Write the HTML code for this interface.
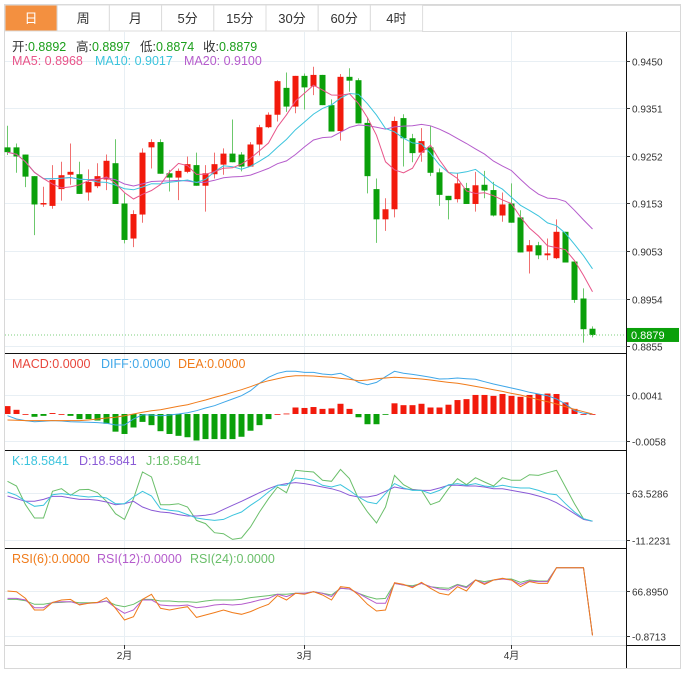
<!DOCTYPE html>
<html><head><meta charset="utf-8"><style>
body{margin:0;background:#fff;font-family:"Liberation Sans","Noto Sans CJK SC",sans-serif}
svg{display:block}
text{font-family:"Liberation Sans","Noto Sans CJK SC",sans-serif}
</style></head><body>
<svg id="c" width="684" height="673" xmlns="http://www.w3.org/2000/svg">
<defs>
<clipPath id="pc"><rect x="5" y="32" width="621" height="320"/></clipPath>
<clipPath id="mc"><rect x="5" y="354" width="621" height="95"/></clipPath>
<clipPath id="kc"><rect x="5" y="451" width="621" height="96"/></clipPath>
<clipPath id="rc"><rect x="5" y="549" width="621" height="95"/></clipPath>
</defs>
<rect x="0" y="0" width="684" height="673" fill="#fff"/>
<rect x="4.5" y="4.5" width="676" height="664" fill="none" stroke="#d8d8d8"/>
<g id="tabs"></g>
<g id="grid"></g>
<g id="candles"></g>
<g id="ma" clip-path="url(#pc)"></g>
<g id="macd" clip-path="url(#mc)"></g>
<g id="kdj" clip-path="url(#kc)"></g>
<g id="rsi" clip-path="url(#rc)"></g>
<g id="axes"></g>
<g font-size="12.5">
<g>
<text x="12" y="51" fill="#333">开:<tspan fill="#1a9e1a">0.8892</tspan></text>
<text x="76" y="51" fill="#333">高:<tspan fill="#1a9e1a">0.8897</tspan></text>
<text x="140" y="51" fill="#333">低:<tspan fill="#1a9e1a">0.8874</tspan></text>
<text x="203" y="51" fill="#333">收:<tspan fill="#1a9e1a">0.8879</tspan></text>
</g>
<g>
<text x="12" y="65" fill="#e8558a">MA5: 0.8968</text>
<text x="95" y="65" fill="#3cc4dd">MA10: 0.9017</text>
<text x="184" y="65" fill="#b55ccc">MA20: 0.9100</text>
</g>
<g>
<text x="12" y="368" fill="#e8463c">MACD:0.0000</text>
<text x="101" y="368" fill="#3fa7e8">DIFF:0.0000</text>
<text x="178" y="368" fill="#f07b1a">DEA:0.0000</text>
</g>
<g>
<text x="12" y="465" fill="#3cc4dd">K:18.5841</text>
<text x="79" y="465" fill="#8a5ad6">D:18.5841</text>
<text x="146" y="465" fill="#6bbf6b">J:18.5841</text>
</g>
<g>
<text x="12" y="563" fill="#f07b1a">RSI(6):0.0000</text>
<text x="97" y="563" fill="#b55ccc">RSI(12):0.0000</text>
<text x="190" y="563" fill="#6bbf6b">RSI(24):0.0000</text>
</g>
</g>
</svg>
<script>
const tabLabels=["日","周","月","5分","15分","30分","60分","4时"];
const opens=[.9270,.9270,.9255,.9210,.9151,.9148,.9183,.9213,.9214,.9176,.9189,.9203,.9237,.9153,.9080,.9130,.9270,.9281,.9216,.9207,.9219,.9233,.9190,.9214,.9234,.9257,.9255,.9230,.9276,.9312,.9338,.9394,.9355,.9419,.9397,.9421,.9358,.9304,.9417,.9410,.9321,.9183,.9120,.9141,.9331,.9289,.9259,.9270,.9218,.9169,.9162,.9185,.9152,.9192,.9181,.9128,.9153,.9124,.9053,.9066,.9045,.9039,.9094,.9032,.8955,.8892];
const highs=[.9315,.9278,.9255,.9210,.9188,.9233,.9240,.9278,.9240,.9224,.9237,.9255,.9287,.9174,.9139,.9268,.9287,.9287,.9223,.9226,.9251,.9259,.9233,.9259,.9268,.9328,.9260,.9281,.9317,.9343,.9410,.9426,.9419,.9424,.9438,.9421,.9370,.9423,.9435,.9414,.9331,.9205,.9164,.9334,.9339,.9298,.9310,.9315,.9226,.9169,.9216,.9196,.9219,.9221,.9198,.9176,.9195,.9139,.9077,.9073,.9080,.9120,.9094,.9032,.8976,.8897];
const lows=[.9254,.9217,.9187,.9087,.9146,.9142,.9159,.9192,.9173,.9159,.9185,.9181,.9152,.9070,.9062,.9113,.9226,.9215,.9178,.9160,.9216,.9190,.9136,.9205,.9213,.9239,.9220,.9230,.9253,.9310,.9324,.9344,.9341,.9349,.9379,.9358,.9303,.9284,.9386,.9320,.9174,.9071,.9096,.9124,.9230,.9239,.9240,.9210,.9148,.9120,.9155,.9152,.9136,.9164,.9126,.9115,.9113,.9051,.9007,.9037,.9035,.9037,.9030,.8946,.8863,.8874];
const closes=[.9260,.9251,.9209,.9151,.9154,.9202,.9212,.9219,.9173,.9198,.9210,.9242,.9152,.9077,.9131,.9259,.9281,.9215,.9207,.9221,.9235,.9190,.9216,.9235,.9257,.9239,.9230,.9276,.9312,.9338,.9408,.9355,.9419,.9395,.9421,.9358,.9303,.9417,.9409,.9320,.9210,.9120,.9141,.9325,.9289,.9258,.9283,.9217,.9171,.9160,.9195,.9152,.9191,.9180,.9128,.9151,.9113,.9051,.9066,.9045,.9049,.9094,.9030,.8952,.8891,.8879];
const macdHist=[.0017,.0009,0,-.0006,-.0004,.0002,0,-.0004,-.0011,-.0011,-.0014,-.0021,-.0038,-.0043,-.0029,-.0017,-.0024,-.0037,-.0043,-.0047,-.0050,-.0057,-.0054,-.0054,-.0054,-.0054,-.0049,-.0036,-.0024,-.0011,0,.0001,.0014,.0013,.0015,.0011,.0012,.0022,.0011,-.0007,-.0022,-.0022,-.0001,.0023,.0019,.0019,.0022,.0014,.0014,.0020,.0030,.0032,.0041,.0041,.0039,.0043,.0039,.0037,.0041,.0043,.0044,.0043,.0025,.0011,0,0];
const difVals=[-.00036,-.00108,-.00143,-.00165,-.00158,-.00143,-.00151,-.00165,-.00172,-.00179,-.00186,-.00201,-.00237,-.00237,-.00108,-.00014,-.00022,-.00036,-.00022,0,.00029,.00072,.00129,.00179,.00251,.00323,.00394,.00502,.00660,.00789,.00875,.00918,.00918,.00896,.00896,.00860,.00846,.00875,.00789,.00681,.00631,.00681,.00803,.00918,.00875,.00853,.00824,.00789,.00753,.00760,.00774,.00760,.00746,.00696,.00645,.00602,.00559,.00516,.00466,.00430,.00394,.00323,.00215,.00072,.00014,0];
const deaVals=[-.00129,-.00136,-.00143,-.00143,-.00143,-.00143,-.00143,-.00143,-.00143,-.00129,-.00108,-.00086,-.00072,-.00036,0,.00036,.00072,.00093,.00129,.00165,.00201,.00251,.00301,.00358,.00409,.00466,.00523,.00588,.00660,.00717,.00760,.00803,.00825,.00825,.00818,.00803,.00789,.00767,.00746,.00717,.00731,.00760,.00774,.00789,.00782,.00767,.00753,.00731,.00703,.00681,.00660,.00631,.00595,.00559,.00523,.00487,.00444,.00409,.00358,.00308,.00265,.00215,.00158,.00100,.00050,0];
const kVals=[65.1,59.8,50.3,42.3,43.9,60.9,62.5,60.9,58.7,57.2,58.2,55.6,46.5,46.5,57.2,66.2,58.7,38.6,36.0,34.4,29.1,23.8,21.6,20.0,21.6,28.0,33.3,43.9,53.4,65.1,75.7,75.7,87.4,86.3,83.7,75.7,73.0,76.8,67.7,57.2,49.2,46.5,62.5,78.4,71.5,67.7,67.7,62.5,67.7,76.8,78.4,75.7,78.4,74.6,73.0,75.7,73.0,71.5,71.5,67.7,62.5,60.9,46.5,33.3,22.7,18.6];
const dVals=[58.7,54.5,50.3,50.3,53.4,58.2,58.2,55.6,53.4,53.4,51.9,49.2,44.9,46.5,50.3,41.3,36.0,33.3,32.2,29.1,26.9,26.9,28.0,30.6,37.5,43.9,50.3,57.2,64.0,70.4,75.7,78.4,80.0,78.4,75.7,73.0,70.4,66.2,59.8,57.2,57.2,59.8,66.2,73.0,70.4,68.8,67.7,67.7,71.5,75.7,75.7,74.6,74.6,73.0,70.4,70.4,67.7,65.1,62.5,58.7,54.5,48.1,39.7,30.6,21.6,18.6];
const jVals=[82.1,74.6,44.9,23.8,23.8,66.2,70.4,59.8,68.8,69.3,64.0,50.3,30.6,21.6,54.5,96.9,89.0,44.9,44.9,46.5,41.3,20.0,14.8,0.4,-1.2,-10.2,-8.0,9.4,33.3,54.5,73.0,64.0,99.6,98.0,96.9,83.7,82.1,101.1,86.3,54.5,33.3,15.8,41.3,91.6,76.8,69.3,67.7,44.9,50.3,70.4,86.3,76.8,87.9,81.0,74.6,87.9,83.7,83.7,92.7,91.6,95.8,99.6,73.0,46.5,22.7,18.6];
const rsi6Vals=[66.9,65.9,55.8,38.3,38.3,49.8,53.3,54.3,45.8,48.3,49.8,56.9,40.8,23.2,28.2,54.3,61.9,40.8,38.3,40.8,43.3,27.2,30.8,34.3,38.3,34.3,31.8,35.8,41.8,46.8,59.9,53.3,63.4,61.9,65.9,60.9,53.3,73.4,71.9,60.9,46.8,36.8,38.3,79.4,76.9,71.9,80.0,70.9,63.4,60.9,73.4,66.9,83.5,76.9,83.5,86.0,83.5,73.4,81.0,78.4,78.4,102,102,102,102,0];
const rsi12Vals=[55.8,55.8,53.3,41.8,41.8,49.8,50.8,50.8,46.8,48.3,49.3,51.8,41.8,33.3,38.3,53.3,53.3,45.8,44.8,44.8,45.8,41.8,43.3,45.8,46.8,45.8,46.8,49.8,53.3,55.8,61.9,58.4,63.4,63.4,65.9,63.4,58.4,70.9,69.9,63.4,55.8,48.3,48.3,78.4,75.9,73.4,78.4,73.4,69.9,68.4,75.9,71.9,83.5,78.4,83.5,85.0,83.5,76.9,82.0,81.0,81.0,102,102,102,102,0];
const rsi24Vals=[54.3,54.3,52.3,46.8,46.8,49.3,49.8,50.8,49.3,49.3,49.8,51.8,45.8,43.3,46.8,54.3,54.3,51.8,51.8,50.8,50.8,49.8,51.8,53.3,53.3,53.3,54.3,56.9,58.4,59.9,61.9,61.9,63.4,63.4,65.9,63.4,60.9,70.9,69.9,63.4,58.4,54.8,55.8,78.4,75.9,74.9,78.4,73.4,71.9,70.9,76.9,73.4,83.5,81.0,83.5,85.0,85.0,80.0,83.5,82.0,82.0,102,102,102,102,0];
const priceTicks=[0.9450,0.9351,0.9252,0.9153,0.9053,0.8954,0.8855];
const macdTicks=[0.0041,-0.0058];
const kdjTicks=[63.5286,-11.2231];
const rsiTicks=[66.8950,-0.8713];
const monthLabels=["2月","3月","4月"];
const monthIndex=[13,33,56];

const NS="http://www.w3.org/2000/svg";
function mk(tag,attrs,parent){const e=document.createElementNS(NS,tag);for(const k in attrs)e.setAttribute(k,attrs[k]);parent.appendChild(e);return e;}
const L=5,R=626;
const xOf=i=>7+i*9;
const yP=p=>61+(0.9450-p)/0.0099*47.5;
const yM=v=>414-v/0.0099*46;
const yK=v=>493-(v-63.5286)*(47/74.7517);
const yR=v=>591-(v-66.895)*(45/67.7663);
const G=id=>document.getElementById(id);

const tabs=G('tabs');
tabLabels.forEach((t,i)=>{
  const x=5+i*52.2;
  const r=mk('rect',{x:x,y:5,width:52.2,height:26,fill:i==0?'#f39040':'#fff',stroke:'#dcdcdc'},tabs);
  
  
  const tx=mk('text',{x:x+26,y:23,'text-anchor':'middle','font-size':13,fill:i==0?'#fff':'#333'},tabs);
  tx.textContent=t;
  
  
});
mk('line',{x1:422,y1:5.5,x2:680,y2:5.5,stroke:'#dcdcdc'},tabs);
mk('line',{x1:422,y1:31.5,x2:680,y2:31.5,stroke:'#dcdcdc'},tabs);

const grid=G('grid');
const hl=[...priceTicks.map(yP),...macdTicks.map(yM),...kdjTicks.map(yK),...rsiTicks.map(yR)];
hl.forEach(y=>{const l=mk('line',{x1:L,x2:R,y1:Math.round(y)+.5,y2:Math.round(y)+.5,stroke:'#e8eff4'},grid);});
monthIndex.forEach(i=>{const l=mk('line',{x1:xOf(i)+.5,x2:xOf(i)+.5,y1:32,y2:645,stroke:'#e8eff4'},grid);});

const cg=G('candles');
const UP='#f21a0c',DN='#0aa00a';
closes.forEach((c,i)=>{
  const o=opens[i],up=c>=o,col=up?UP:DN,x=xOf(i);
  const w=mk('line',{x1:x+.5,x2:x+.5,y1:yP(highs[i]),y2:yP(lows[i]),stroke:up?'#f07070':'#6cc86c'},cg);
  
  
  const t=yP(Math.max(o,c)),b=yP(Math.min(o,c));
  const r=mk('rect',{x:x-2.5,y:t,width:6,height:Math.max(1.5,b-t),fill:col},cg);
  
  
});
const last=closes[closes.length-1];
mk('line',{x1:L,x2:R,y1:yP(last),y2:yP(last),stroke:'#7ccf7c','stroke-dasharray':'1,2'},cg);
const pb=mk('rect',{x:627,y:yP(last)-7,width:52,height:14,fill:'#0aa00a'},cg);


const pt=mk('text',{x:631,y:yP(last)+4,'font-size':11,fill:'#fff'},cg);pt.textContent=last.toFixed(4);

function sma(n){return closes.map((_,i)=>{const s=closes.slice(Math.max(0,i-n+1),i+1);return s.reduce((a,b)=>a+b,0)/s.length;});}
function poly(vals,fy,col,g,name){const p=vals.map((v,i)=>xOf(i)+.5+','+fy(v).toFixed(1)).join(' ');const e=mk('polyline',{points:p,fill:'none',stroke:col,'stroke-width':1},g);return e;}
const mg=G('ma');
poly(sma(20),yP,'#b55ccc',mg,'ma20-line');
poly(sma(10),yP,'#3cc4dd',mg,'ma10-line');
poly(sma(5),yP,'#e8558a',mg,'ma5-line');

const mgp=G('macd');
macdHist.forEach((h,i)=>{const y0=yM(0),y1=yM(h);const r=mk('rect',{x:xOf(i)-2.5,y:Math.min(y0,y1),width:6,height:Math.max(0.8,Math.abs(y1-y0)),fill:h>=0?UP:DN},mgp);});
poly(difVals,yM,'#3fa7e8',mgp,'dif-line');
poly(deaVals,yM,'#f07b1a',mgp,'dea-line');

const kg=G('kdj');
poly(jVals,yK,'#6bbf6b',kg,'j-line');
poly(dVals,yK,'#8a5ad6',kg,'d-line');
poly(kVals,yK,'#3cc4dd',kg,'k-line');

const rg=G('rsi');
poly(rsi24Vals,yR,'#6bbf6b',rg,'rsi24-line');
poly(rsi12Vals,yR,'#b55ccc',rg,'rsi12-line');
poly(rsi6Vals,yR,'#f07b1a',rg,'rsi6-line');

const ax=G('axes');
[353,450,548].forEach(y=>{const l=mk('line',{x1:L,x2:R,y1:y+.5,y2:y+.5,stroke:'#111'},ax);});
mk('line',{x1:L,x2:R,y1:645.5,y2:645.5,stroke:'#ccc'},ax);
mk('line',{x1:R+.5,x2:R+.5,y1:32,y2:668,stroke:'#111'},ax);
mk('line',{x1:R,x2:680,y1:645.5,y2:645.5,stroke:'#111'},ax);
function tick(y,label){mk('line',{x1:R,x2:R+4,y1:y,y2:y,stroke:'#333'},ax);const t=mk('text',{x:R+6,y:y+4,'font-size':10,fill:'#333'},ax);t.textContent=label;}
priceTicks.forEach(p=>tick(Math.round(yP(p))+.5,p.toFixed(4)));
macdTicks.forEach(v=>tick(Math.round(yM(v))+.5,v.toFixed(4)));
kdjTicks.forEach(v=>tick(Math.round(yK(v))+.5,v.toFixed(4)));
rsiTicks.forEach(v=>tick(Math.round(yR(v))+.5,v.toFixed(4)));
monthLabels.forEach((m,i)=>{const x=xOf(monthIndex[i])+.5;mk('line',{x1:x,x2:x,y1:645,y2:649,stroke:'#333'},ax);const t=mk('text',{x:x,y:659,'font-size':10,'text-anchor':'middle',fill:'#333'},ax);t.textContent=m;});
</script>
</body></html>
